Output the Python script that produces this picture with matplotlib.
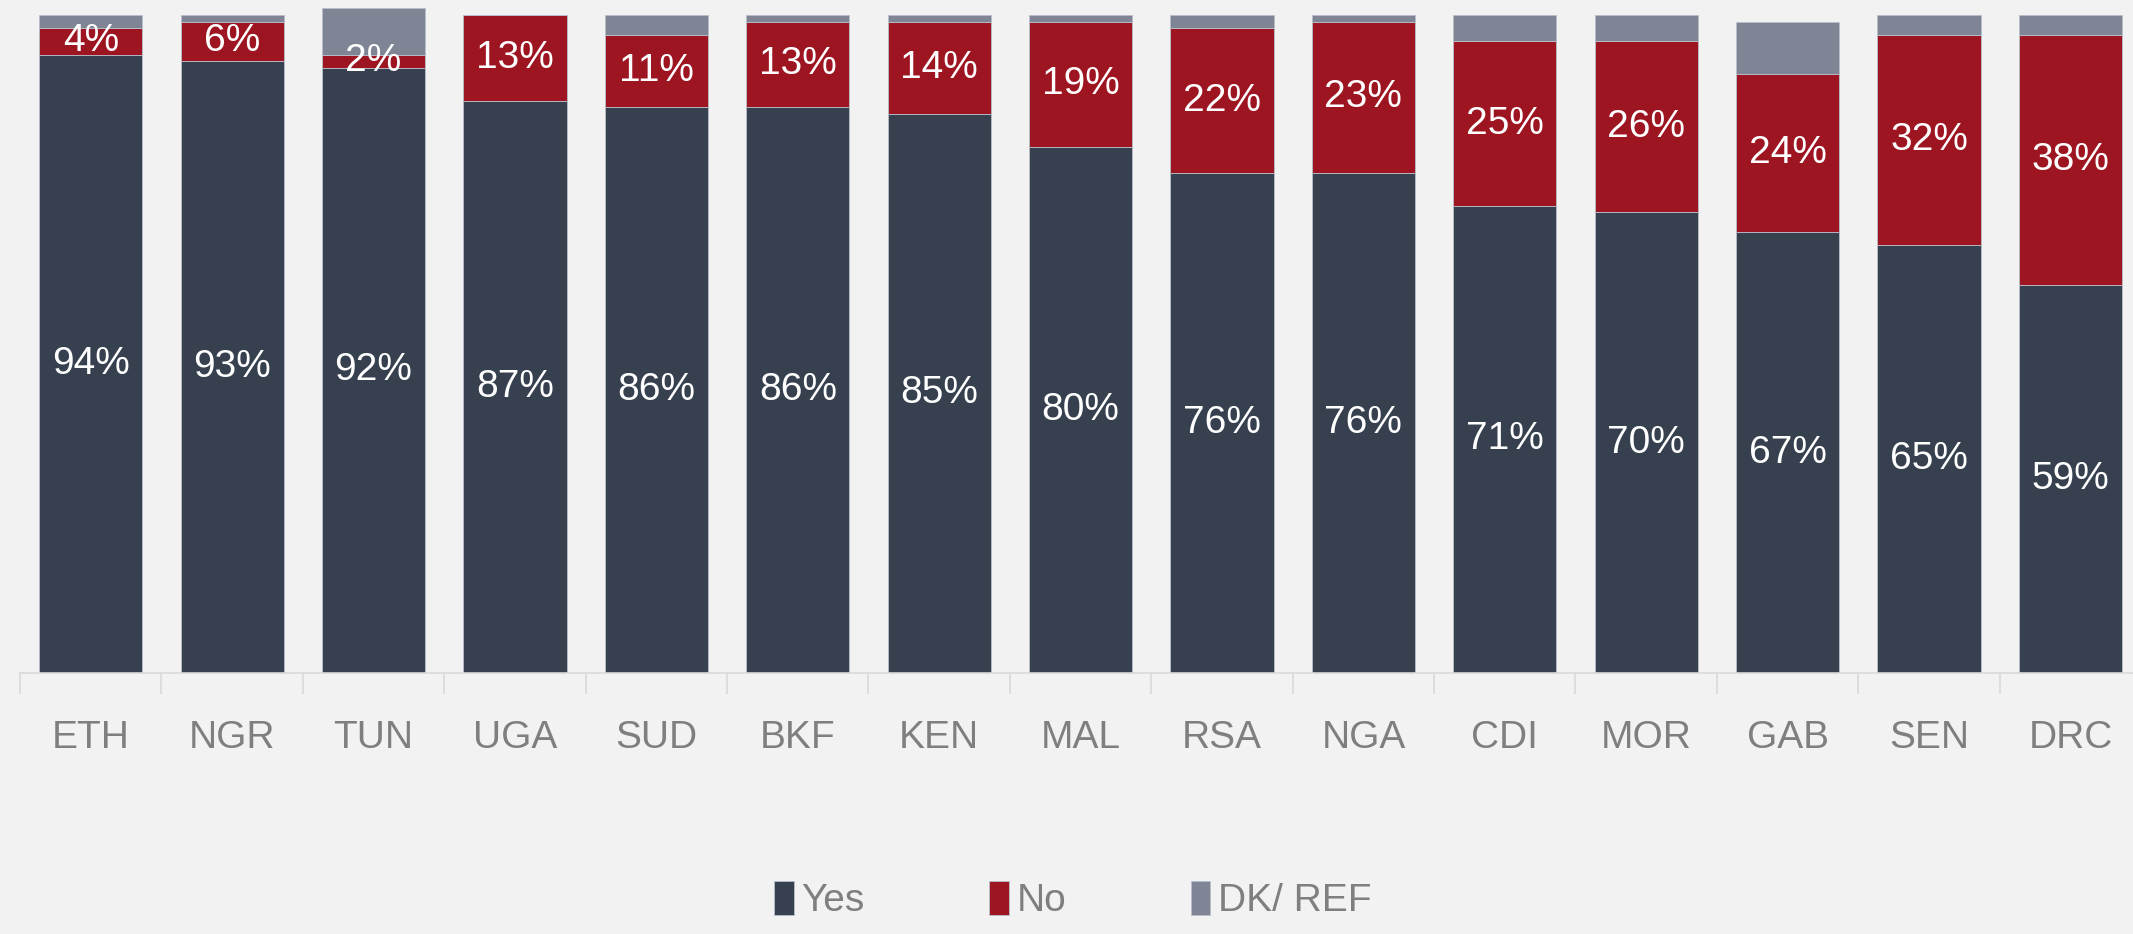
import matplotlib.pyplot as plt
import numpy as np

countries = ["ETH", "NGR", "TUN", "UGA", "SUD", "BKF", "KEN", "MAL",
             "RSA", "NGA", "CDI", "MOR", "GAB", "SEN", "DRC"]
yes = [94, 93, 92, 87, 86, 86, 85, 80, 76, 76, 71, 70, 67, 65, 59]
no = [4, 6, 2, 13, 11, 13, 14, 19, 22, 23, 25, 26, 24, 32, 38]
dk_ref = [2, 1, 7, 0, 3, 1, 1, 1, 2, 1, 4, 4, 8, 3, 3]

plt.rcParams['font.family'] = ['Liberation Sans Narrow', 'Liberation Sans', 'DejaVu Sans']

bg = '#f2f2f2'
c_yes = '#36404f'
c_no = '#9e1522'
c_dk = '#808595'

fig = plt.figure(figsize=(21.33, 9.34), dpi=100, facecolor=bg)
ax = fig.add_axes([0.0094, 0.2794, 0.9944, 0.7186], facecolor=bg)

x = np.arange(len(countries))
yes = np.array(yes)
no = np.array(no)
dk_ref = np.array(dk_ref)
w = 0.73
edge = dict(edgecolor='#b9bfcb', linewidth=0.6)

b1 = ax.bar(x, yes, w, color=c_yes, label='Yes', **edge)
b2 = ax.bar(x, no, w, bottom=yes, color=c_no, label='No', **edge)
b3 = ax.bar(x, dk_ref, w, bottom=yes + no, color=c_dk, label='DK/ REF', **edge)

# percentage labels centred in the Yes and No segments
for i in range(len(countries)):
    ax.text(x[i], yes[i] / 2, f"{yes[i]}%", ha='center', va='center',
            color='white', fontsize=28)
    ax.text(x[i], yes[i] + no[i] / 2, f"{no[i]}%", ha='center', va='center',
            color='white', fontsize=28)

ax.set_xlim(-0.5, len(countries) - 0.5)
ax.set_ylim(0, 102)
ax.set_yticks([])
for s in ['top', 'right', 'left']:
    ax.spines[s].set_visible(False)
ax.spines['bottom'].set_color('#d9d9d9')
ax.spines['bottom'].set_linewidth(1.2)

ax.set_xticks(x)
ax.set_xticklabels(countries, fontsize=28, color='#7f7f7f')
ax.tick_params(axis='x', which='major', length=0, pad=34)
# separator ticks between categories
ax.set_xticks(np.arange(-0.5, len(countries), 1), minor=True)
ax.tick_params(axis='x', which='minor', length=15, width=1.2, color='#d9d9d9')

leg = fig.legend(handles=[b1, b2, b3], loc='center', bbox_to_anchor=(0.503, 0.036),
                 ncol=3, frameon=False, fontsize=28, handlelength=0.5,
                 handleheight=0.95, handletextpad=0.2, columnspacing=3.2)
for t in leg.get_texts():
    t.set_color('#7f7f7f')

fig.savefig('out.png', dpi=100, facecolor=bg)
